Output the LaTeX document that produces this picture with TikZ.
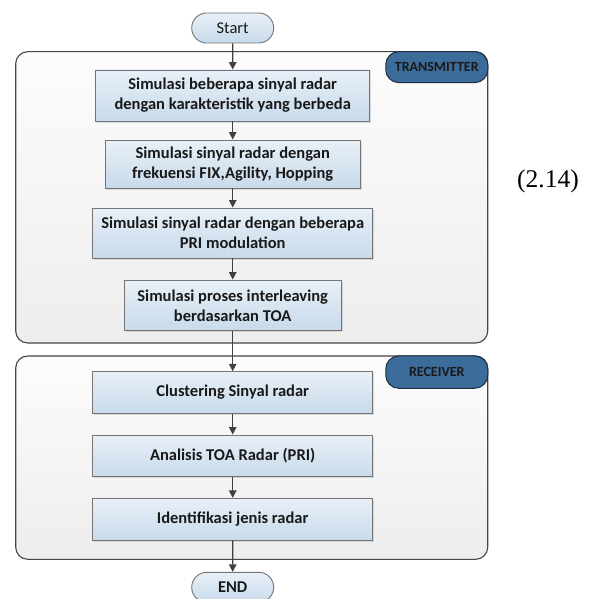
\documentclass[tikz,border=0pt]{standalone}
\usepackage{fontspec}
\setmainfont{Carlito}
\newfontfamily\eqfont{Liberation Serif}
\usetikzlibrary{shapes.misc,arrows.meta,shadows}
\definecolor{boxtop}{HTML}{E8F0F8}
\definecolor{boxbot}{HTML}{C8DAEA}
\definecolor{boxline}{HTML}{747474}
\definecolor{tagblue}{HTML}{3C6C9A}
\definecolor{tagline}{HTML}{1C2F45}
\definecolor{arrowgray}{HTML}{404040}
\definecolor{panelline}{HTML}{454545}
\begin{document}
\begin{tikzpicture}[x=1pt,y=-1pt,
  >={Triangle[length=7.5pt,width=7.5pt]},
  proc/.style={draw=boxline,line width=0.9pt,top color=boxtop,bottom color=boxbot,align=center,inner sep=0pt,text=black!90,
    font=\fontsize{16.5}{20}\selectfont\bfseries,drop shadow={shadow xshift=1.5pt,shadow yshift=-1.5pt,opacity=0.25}},
  term/.style={rounded rectangle,draw=boxline,line width=0.9pt,top color=boxtop,bottom color=boxbot,inner sep=0pt,
    minimum width=82pt,minimum height=30pt,text=black!90,font=\fontsize{16.5}{20}\selectfont},
  panel/.style={draw=panelline,line width=1.1pt,rounded corners=12pt,top color=black!1,bottom color=black!7,
    minimum width=472pt,inner sep=0pt},
  tag/.style={draw=tagline,line width=1pt,fill=tagblue,rounded corners=13pt,minimum width=102pt,inner sep=0pt,
    anchor=north east,text=black!90,font=\fontsize{14}{16}\selectfont\bfseries},
  link/.style={->,draw=arrowgray,line width=1.2pt}]
\useasboundingbox (0,0) rectangle (590,599);
\node[panel,minimum height=291.3pt] (tx) at (251.7,197.35) {};
\node[panel,minimum height=203.3pt] (rx) at (251.7,457.65) {};
\node[tag,minimum height=31pt] (txtag) at (tx.north east) {TRANSMITTER};
\node[tag,minimum height=32.3pt] (rxtag) at (rx.north east) {RECEIVER};
\node[term] (start) at (232.7,28) {Start};
\node[proc,minimum width=274pt,minimum height=51pt] (s1) at (232.7,95.5) {Simulasi beberapa sinyal radar\\dengan karakteristik yang berbeda};
\node[proc,minimum width=254.6pt,minimum height=48pt] (s2) at (232.7,164) {Simulasi sinyal radar dengan\\frekuensi FIX,Agility, Hopping};
\node[proc,minimum width=280pt,minimum height=50pt] (s3) at (232.7,233) {Simulasi sinyal radar dengan beberapa\\PRI modulation};
\node[proc,minimum width=217.4pt,minimum height=50.7pt] (s4) at (232.7,305.35) {Simulasi proses interleaving\\berdasarkan TOA};
\node[proc,minimum width=280.4pt,minimum height=41.6pt] (r1) at (232.7,392.5) {Clustering Sinyal radar};
\node[proc,minimum width=280.4pt,minimum height=41.7pt] (r2) at (232.7,455.85) {Analisis TOA Radar (PRI)};
\node[proc,minimum width=280.4pt,minimum height=41.7pt] (r3) at (232.7,519.15) {Identifikasi jenis radar};
\node[term,font=\fontsize{16.5}{20}\selectfont\bfseries] (end) at (232.7,587.3) {END};
\node[font=\eqfont\fontsize{25.5}{30}\selectfont] (eqno) at (548,181) {(2.14)};
\foreach \a/\b in {start/s1,s1/s2,s2/s3,s3/s4,s4/r1,r1/r2,r2/r3,r3/end}
  \draw[link] (\a) -- (\b);
\end{tikzpicture}
\end{document}
